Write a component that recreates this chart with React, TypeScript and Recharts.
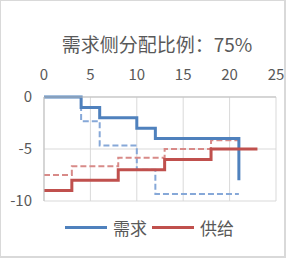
import React from 'react'
import { LineChart, Line, XAxis, YAxis, CartesianGrid, Legend } from 'recharts'

// step points: each value holds until the next x
const demandX = [0, 4, 6, 10, 12, 21]
const demandY = [0, -1, -2, -3, -4, -8]
const demandDashY = [0, -2.33, -4.67, -7, -9.33, -9.33]

const supplyX = [0, 3, 8, 13, 18, 23]
const supplyY = [-9, -8, -7, -6, -5, -5]
const supplyDashX = [0, 3, 8, 13, 18, 21]
const supplyDashY = [-7.5, -6.67, -5.83, -5, -4.17, -4.17]

const xTicks = [0, 5, 10, 15, 20, 25]
const yTicks = [0, -5, -10]

const title = '需求侧分配比例：75%'
const demandName = '需求'
const supplyName = '供给'

const toPoints = (xs: number[], ys: number[]) => xs.map((x, i) => ({ x, y: ys[i] }))

const demand = toPoints(demandX, demandY)
const demandDash = toPoints(demandX, demandDashY)
const supply = toPoints(supplyX, supplyY)
const supplyDash = toPoints(supplyDashX, supplyDashY)

const BLUE = '#4F81BD'
const BLUE_LIGHT = '#86A8D8'
const RED = '#C0504D'
const RED_LIGHT = '#D88A88'
const GRAY = '#595959'
const FONT = '"Noto Sans CJK SC", "Noto Sans", sans-serif'

const renderLegend = () => (
    <div style={{ display: 'flex', justifyContent: 'center', alignItems: 'center', paddingLeft: 18, fontFamily: FONT, fontSize: 17, color: GRAY }}>
        {[
            { name: demandName, color: BLUE },
            { name: supplyName, color: RED },
        ].map((item) => (
            <div key={item.name} style={{ display: 'flex', alignItems: 'center', marginRight: 5 }}>
                <div style={{ width: 42, height: 3, background: item.color, marginRight: 6 }} />
                <span>{item.name}</span>
            </div>
        ))}
    </div>
)

export default function App() {
    return (
        <div
            style={{
                position: 'fixed',
                top: 0,
                left: 0,
                width: 286,
                height: 258,
                boxSizing: 'border-box',
                borderTop: '1px solid #d9d9d9',
                borderLeft: '1px solid #d9d9d9',
                borderRight: '2px solid #d9d9d9',
                borderBottom: '2px solid #d9d9d9',
                background: '#fff',
            }}
        >
            <div
                style={{
                    position: 'absolute',
                    top: 31,
                    left: 0,
                    width: 312,
                    textAlign: 'center',
                    fontFamily: FONT,
                    fontSize: 19,
                    lineHeight: '24px',
                    color: GRAY,
                }}
            >
                {title}
            </div>
            <div style={{ position: 'absolute', top: -1, left: -1 }}>
                <LineChart width={286} height={258} margin={{ top: 67, right: 10, bottom: 57, left: 10 }}>
                    <CartesianGrid stroke='#d9d9d9' strokeWidth={1} horizontalValues={yTicks} verticalValues={xTicks} />
                    <XAxis
                        type='number'
                        dataKey='x'
                        orientation='top'
                        domain={[0, 25]}
                        ticks={xTicks}
                        height={30}
                        tickLine={false}
                        axisLine={{ stroke: '#bfbfbf' }}
                        tickMargin={11}
                        tick={{ fill: GRAY, fontSize: 15, fontFamily: FONT }}
                        allowDuplicatedCategory={false}
                    />
                    <YAxis
                        type='number'
                        dataKey='y'
                        domain={[-10, 0]}
                        ticks={yTicks}
                        width={34}
                        tickLine={false}
                        axisLine={{ stroke: '#bfbfbf' }}
                        tickMargin={6}
                        tick={{ fill: GRAY, fontSize: 15, fontFamily: FONT }}
                    />
                    <Legend
                        verticalAlign='middle'
                        layout='horizontal'
                        align='center'
                        content={renderLegend}
                        wrapperStyle={{ top: 215, left: 0, width: 286 }}
                    />
                    <Line data={demandDash} dataKey='y' type='stepAfter' stroke={BLUE_LIGHT} strokeWidth={2} strokeDasharray='6 3' dot={false} legendType='none' isAnimationActive={false} />
                    <Line data={supplyDash} dataKey='y' type='stepAfter' stroke={RED_LIGHT} strokeWidth={2} strokeDasharray='6 3' dot={false} legendType='none' isAnimationActive={false} />
                    <Line data={demand} dataKey='y' name={demandName} type='stepAfter' stroke={BLUE} strokeWidth={3} dot={false} isAnimationActive={false} />
                    <Line data={supply} dataKey='y' name={supplyName} type='stepAfter' stroke={RED} strokeWidth={3} dot={false} isAnimationActive={false} />
                </LineChart>
            </div>
        </div>
    )
}
